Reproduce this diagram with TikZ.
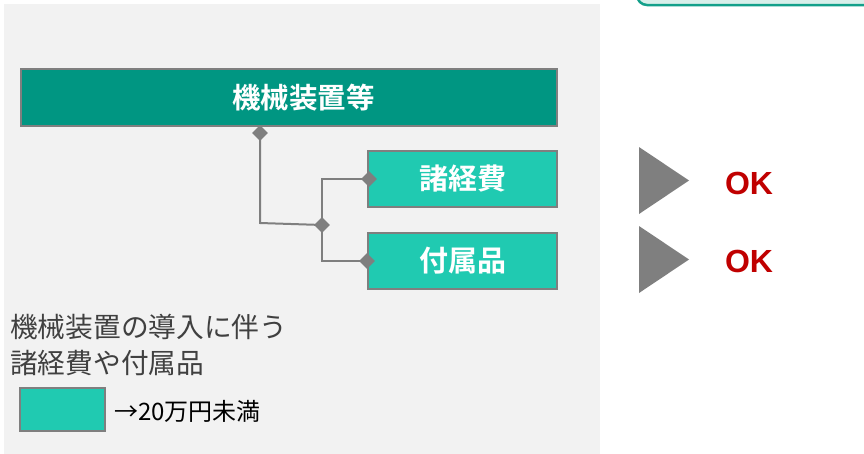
\documentclass[tikz,border=0pt]{standalone}
\usepackage{fontspec}
\setmainfont{Liberation Sans}
\newfontfamily\jp{Noto Sans CJK JP}[BoldFont={Noto Sans CJK JP Bold}]
\usetikzlibrary{shapes.geometric}
\definecolor{panel}{HTML}{F2F2F2}
\definecolor{darkteal}{HTML}{009682}
\definecolor{lightteal}{HTML}{20CAB1}
\definecolor{edgegray}{HTML}{7F7F7F}
\definecolor{okred}{HTML}{C00000}
\definecolor{mint}{HTML}{D8EFEA}
\definecolor{mintedge}{HTML}{13A08A}
\definecolor{legtext}{HTML}{404040}
\tikzset{
  boxbase/.style={draw=edgegray, line width=2pt, inner sep=0pt, text=white, font=\jp\bfseries\fontsize{29}{32}\selectfont},
  mainbox/.style={boxbase, fill=darkteal, minimum width=536pt, minimum height=57pt},
  subbox/.style={boxbase, fill=lightteal, minimum width=189pt, minimum height=56pt},
  dmark/.style={diamond, fill=edgegray, inner sep=0pt, minimum size=16pt},
  conn/.style={draw=edgegray, line width=2pt},
  tri/.style={fill=edgegray},
  oktext/.style={text=okred, font=\bfseries\fontsize{32}{34}\selectfont, inner sep=0pt}
}
\begin{document}
\begin{tikzpicture}[x=1pt,y=-1pt]
\useasboundingbox (0,0) rectangle (864,453);
\clip (0,0) rectangle (864,453);
% background panel
\fill[panel] (4,4) rectangle (600,460);
% top-right box
\draw[mintedge, line width=2.5pt, fill=mint, rounded corners=10pt] (637,-30) rectangle (875,5);
% boxes
\node[mainbox] (m) at (289,97.5) {};
\node[text=white, font=\jp\bfseries\fontsize{28.5}{32}\selectfont, inner sep=0pt] (mt) at (303.5,97.5) {機械装置等};
\node[subbox] (a) at (462.5,179) {諸経費};
\node[subbox] (b) at (462.5,261) {付属品};
% connectors
\coordinate (j1) at (260,133);
\coordinate (c1) at (260,223);
\coordinate (j2) at (322,225);
\coordinate (ua) at (322,179);
\coordinate (ub) at (322,261);
\draw[conn] (j1) -- (c1) -- (j2);
\draw[conn] (a.west) -- (ua) -- (ub) -- (b.west);
\node[dmark] (d1) at (j1) {};
\node[dmark] (d2) at (j2) {};
\node[dmark] (d3) at ([xshift=2pt]a.west) {};
\node[dmark] (d4) at (b.west) {};
% triangles and OK
\fill[tri] (639,147) -- (689,180.5) -- (639,214) -- cycle;
\fill[tri] (639,226) -- (689,259.5) -- (639,293) -- cycle;
\node[oktext] (ok1) at (749,183) {OK};
\node[oktext] (ok2) at (749,261) {OK};
% legend
\node[anchor=west, align=left, inner sep=0pt, text=legtext, font=\jp\fontsize{27.7}{36}\selectfont] (lt) at (10,345) {機械装置の導入に伴う\\諸経費や付属品};
\node[draw=edgegray, line width=2pt, fill=lightteal, minimum width=85pt, minimum height=43pt, inner sep=0pt] (lg) at (62.5,409.5) {};
\node[anchor=west, inner sep=0pt, font=\jp\fontsize{24}{27}\selectfont] (lgt) at (114,411) {→20万円未満};
\end{tikzpicture}
\end{document}
